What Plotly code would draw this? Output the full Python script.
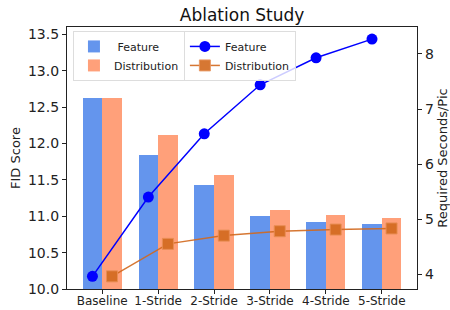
import plotly.graph_objects as go

categories = ["Baseline", "1-Stride", "2-Stride", "3-Stride", "4-Stride", "5-Stride"]
fid_feature = [12.62, 11.84, 11.43, 11.00, 10.92, 10.89]
fid_distribution = [12.62, 12.12, 11.56, 11.08, 11.01, 10.97]
sec_feature = [3.96, 5.40, 6.55, 7.44, 7.93, 8.27]
sec_distribution = [3.96, 4.55, 4.70, 4.78, 4.81, 4.83]

W = 0.35
pos = list(range(len(categories)))
FONT = "DejaVu Sans"

fig = go.Figure()
fig.add_trace(go.Bar(x=pos, y=fid_feature, width=W, offset=-W, name=" Feature",
                     marker=dict(color="#6495ED", line=dict(width=0)), legend="legend"))
fig.add_trace(go.Bar(x=pos, y=fid_distribution, width=W, offset=0, name="Distribution",
                     marker=dict(color="#FFA07A", line=dict(width=0)), legend="legend"))
fig.add_trace(go.Scatter(x=[p - W / 2 for p in pos], y=sec_feature, yaxis="y2", name="Feature",
                         mode="lines+markers", line=dict(color="#0000FF", width=1.5),
                         marker=dict(symbol="circle", size=11, color="#0000FF"), legend="legend2"))
fig.add_trace(go.Scatter(x=[p + W / 2 for p in pos], y=sec_distribution, yaxis="y2", name="Distribution",
                         mode="lines+markers", line=dict(color="#D2691E", width=1.5),
                         marker=dict(symbol="square", size=11, color="#D2691E",
                                     line=dict(color="rgba(230,140,80,0.9)", width=1)),
                         opacity=0.9, legend="legend2"))

axis_common = dict(showline=True, linecolor="#222", linewidth=1.3, ticks="outside",
                   tickcolor="#222", ticklen=4, tickwidth=1, showgrid=False, zeroline=False,
                   automargin=False)

fig.update_layout(
    width=450, height=310,
    margin=dict(l=67, r=33, t=27, b=21),
    paper_bgcolor="white", plot_bgcolor="white",
    font=dict(family=FONT, color="#222"),
    title=dict(text="Ablation Study", x=0.538, xanchor="center", y=0.952, yanchor="middle",
               font=dict(size=17, family=FONT, color="#111"), automargin=False),
    bargap=0, barmode="overlay",
    xaxis=dict(range=[-0.63, 5.63], tickvals=pos, ticktext=categories, mirror=True,
               tickfont=dict(size=12, family=FONT), ticklabelstandoff=-4, **axis_common),
    yaxis=dict(range=[10.0, 13.6], tickvals=[10.0, 10.5, 11.0, 11.5, 12.0, 12.5, 13.0, 13.5],
               ticktext=["10.0", "10.5", "11.0", "11.5", "12.0", "12.5", "13.0", "13.5"],
               tickfont=dict(size=14, family=FONT),
               title=dict(text="FID Score", font=dict(size=13, family=FONT), standoff=4),
               **axis_common),
    yaxis2=dict(range=[3.73, 8.49], overlaying="y", side="right", tickvals=[4, 5, 6, 7, 8],
                tickfont=dict(size=14, family=FONT),
                title=dict(text="Required Seconds/Pic", font=dict(size=13, family=FONT), standoff=13),
                **axis_common),
    legend=dict(x=0.017, y=0.985, xanchor="left", yanchor="top", bgcolor="rgba(255,255,255,0.8)",
                bordercolor="#ddd", borderwidth=1, font=dict(size=11, family=FONT),
                tracegroupgap=0, itemwidth=30),
    legend2=dict(x=0.334, y=0.985, xanchor="left", yanchor="top", bgcolor="rgba(255,255,255,0.8)",
                 bordercolor="#ddd", borderwidth=1, font=dict(size=11, family=FONT),
                 tracegroupgap=0, itemwidth=30),
)

fig.write_html("out.html", config={"displayModeBar": False},
               post_script="document.body.style.margin='0';document.body.style.overflow='hidden';")
